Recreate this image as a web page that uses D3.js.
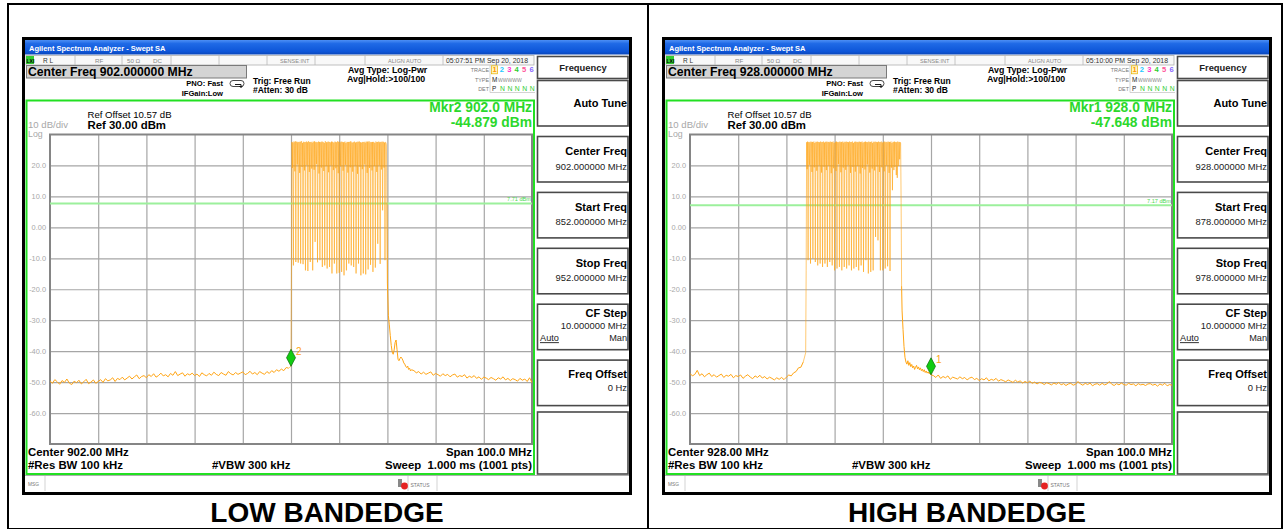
<!DOCTYPE html>
<html><head><meta charset="utf-8">
<script src="https://cdn.jsdelivr.net/npm/d3@7"></script>
<style>
html,body{margin:0;padding:0;background:#fff;}
svg{display:block;font-family:"Liberation Sans",Arial,Helvetica,sans-serif;}
</style></head><body>
<svg id="chart" width="1285" height="529"></svg>
<script>
// ---------- measurement settings ----------
const captions = ["LOW BANDEDGE", "HIGH BANDEDGE"];
const centerFreqs = [902.0, 928.0];          // MHz
const spanMHz = 100.0;
const refLevel = 30.0, dbPerDiv = 10;         // dBm, dB/div
const levelTicks = [20, 10, 0, -10, -20, -30, -40, -50, -60];
const freqGridLow = [862, 872, 882, 892, 902, 912, 922, 932, 942];
const freqGridHigh = [888, 898, 908, 918, 928, 938, 948, 958, 968];
const displayLines = [7.71, 7.17];            // dBm
const timestamps = ["05:07:51 PM Sep 20, 2018", "05:10:00 PM Sep 20, 2018"];
const markerLabels = ["2", "1"];
const markerFreqs = [902.0, 928.0];           // MHz
const markerLevels = [-44.879, -47.648];      // dBm

// ---------- trace: low band edge (852 - 952 MHz) ----------
const lowNoiseLeft = [ // 852.0 .. 901.5 MHz, 0.5 MHz
 -49.6,-50.4,-49.2,-49.9,-50.7,-49.5,-50.1,-49.0,-50.3,-50.8,
 -49.7,-50.2,-49.4,-50.6,-49.9,-49.1,-50.5,-50.0,-49.3,-50.4,
 -49.8,-49.2,-50.1,-48.9,-49.6,-49.3,-48.6,-49.8,-48.8,-49.2,
 -48.4,-49.3,-48.7,-48.1,-49.0,-48.3,-47.7,-48.9,-48.2,-47.9,
 -48.6,-47.6,-48.2,-47.3,-48.4,-47.9,-47.1,-48.0,-47.6,-48.3,
 -47.2,-47.8,-46.6,-47.9,-47.4,-47.0,-48.1,-47.3,-47.7,-47.1,
 -47.9,-47.4,-48.2,-47.0,-47.6,-48.0,-47.2,-47.8,-46.8,-47.5,
 -47.9,-46.9,-47.4,-47.8,-46.6,-47.3,-47.7,-46.9,-47.5,-47.1,
 -46.7,-47.6,-47.2,-46.5,-47.4,-46.9,-47.6,-46.6,-47.1,-47.5,
 -46.6,-47.2,-46.3,-46.9,-46.0,-46.5,-45.8,-46.3,-45.3,-45.5];
const lowBand = [ // 902.0 .. 921.9 MHz, 0.1 MHz
 -44.879,-12.5,
 27.6,19.2,27.4,-12.3,27.7, 27.5,18.1,27.8,-11.2,27.3, 27.7,20.3,27.5,-11.4,27.6,
 27.4,17.6,27.7,-11.7,27.5, 27.8,19.5,27.3,-11.9,27.6, 27.5,18.4,27.6,-13.9,27.4,
 27.7,20.1,27.5,-14.1,27.8, 27.3,17.9,27.6,-11.2,27.5, 27.6,19.0,27.4,-13.9,27.7,
 27.5,18.6,27.8,-4.7,27.4, 27.6,20.4,27.5,-11.3,27.3, 27.7,17.4,27.6,-10.6,27.5,
 27.4,19.3,27.7,-12.8,27.6, 27.5,18.2,27.3,-12.3,27.8, 27.6,19.8,27.5,-13.3,27.4,
 27.7,17.8,27.6,-12.8,27.5, 27.3,20.0,27.7,-14.9,27.6, 27.5,18.5,27.4,-11.7,27.7,
 27.6,19.1,27.5,-14.9,27.3, 27.8,17.5,27.6,-14.7,27.5, 27.4,19.7,27.7,-14.4,27.6,
 27.5,18.3,27.5,-15.5,27.4, 27.7,20.2,27.3,-13.9,27.6, 27.5,17.7,27.6,-11.7,27.5,
 27.6,19.4,27.8,-12.3,27.4, 27.3,18.0,27.5,-12.8,27.7, 27.6,19.9,27.4,-14.9,27.5,
 27.5,17.3,27.7,-11.7,27.6, 27.7,19.6,27.5,-15.5,27.3, 27.4,18.8,27.6,-14.9,27.5,
 27.6,20.3,27.4,-15.2,27.7, 27.5,17.6,27.7,-13.6,27.4, 27.8,19.2,27.5,-12.1,27.6,
 27.4,18.4,27.6,-14.4,27.5, 27.6,19.8,27.3,-13.0,27.7, 27.5,17.9,27.6,-5.3,27.4,
 27.7,20.0,27.5,-11.8,27.6, 27.4,18.7,27.7,5.5,27.5, 27.6,19.3,27.4,-10.6,27.5,
 27.4,26.6,8.0];
const lowTail = [ // 922.0 .. 927.0 MHz, 0.2 MHz
 -18.0,-28.5,-31.5,-35.0,-38.2,-40.3,-41.0,-39.6,-37.2,-36.4,
 -39.5,-42.6,-43.1,-42.4,-41.9,-42.3,-42.9,-43.8,-44.2,-44.9,
 -45.3,-44.8,-45.9,-45.5,-46.4,-46.0];
const lowNoiseRight = [ // 927.5 .. 952.0 MHz, 0.5 MHz
 -46.3,-47.0,-46.6,-47.4,-46.8,-47.5,-47.1,-46.7,-47.8,-47.2,
 -47.6,-48.1,-47.3,-47.9,-47.5,-48.3,-47.7,-47.4,-48.4,-47.9,
 -48.2,-47.6,-48.7,-48.1,-48.5,-47.9,-48.8,-48.3,-49.1,-48.4,
 -48.7,-49.2,-48.5,-48.9,-49.4,-48.6,-49.0,-48.3,-49.3,-48.8,
 -49.5,-48.9,-49.2,-49.7,-48.8,-49.4,-49.0,-49.8,-48.6,-50.2];

// ---------- trace: high band edge (878 - 978 MHz) ----------
const highNoiseLeft = [ // 878.0 .. 901.5 MHz, 0.5 MHz
 -47.2,-48.0,-47.5,-46.2,-47.9,-47.3,-48.3,-47.6,-47.1,-48.2,
 -47.6,-48.4,-47.9,-47.4,-48.5,-47.8,-48.1,-47.5,-48.6,-47.9,
 -48.2,-47.7,-48.8,-48.1,-47.6,-48.4,-48.9,-48.0,-48.5,-47.8,
 -48.7,-48.2,-49.0,-48.4,-48.8,-49.3,-48.6,-49.1,-48.5,-49.2,
 -48.4,-47.7,-48.0,-47.0,-46.6,-45.4,-45.2,-43.5];
const highBand = [ // 902.0 .. 921.9 MHz, 0.1 MHz
 -40.5,-14.0,
 27.5,18.8,27.7,-10.6,27.4, 27.6,20.2,27.5,-11.7,27.7, 27.4,17.9,27.6,-10.1,27.5,
 27.7,19.4,27.3,-11.2,27.6, 27.5,18.3,27.7,-12.3,27.4, 27.6,20.0,27.5,-11.7,27.7,
 27.3,17.7,27.6,-12.8,27.5, 27.7,19.6,27.4,-11.7,27.6, 27.5,18.5,27.7,-12.8,27.3,
 27.6,19.9,27.5,-11.2,27.7, 27.4,17.5,27.6,-12.3,27.5, 27.7,19.1,27.3,-13.9,27.6,
 27.5,18.2,27.7,-13.3,27.4, 27.6,20.4,27.5,-12.8,27.7, 27.3,17.8,27.6,-13.9,27.5,
 27.7,19.3,27.4,-12.8,27.6, 27.5,18.6,27.7,-13.3,27.3, 27.6,20.1,27.5,-12.3,27.7,
 27.4,17.6,27.6,-13.9,27.5, 27.7,19.5,27.3,-13.3,27.6, 27.5,18.0,27.7,-12.8,27.4,
 27.6,19.8,27.5,-13.9,27.7, 27.3,17.4,27.6,-12.3,27.5, 27.7,19.2,27.4,-14.4,27.6,
 27.5,18.7,27.7,-10.6,27.3, 27.6,20.3,27.5,-14.9,27.7, 27.4,17.7,27.6,-14.4,27.5,
 27.7,19.0,27.3,-13.9,27.6, 27.5,18.4,27.7,-3.1,27.4, 27.6,19.7,27.5,-4.2,27.7,
 27.3,17.9,27.6,-13.9,27.5, 27.7,19.4,27.4,-13.9,27.6, 27.5,18.1,27.7,-13.3,27.3,
 27.6,20.0,27.5,-12.6,27.7, 27.4,17.6,27.6,-14.1,27.5, 27.7,19.3,27.3,12.0,27.6,
 27.5,18.5,27.7,19.5,27.4, 27.6,16.9,27.5,16.0,27.7, 27.3,19.8,27.6,22.0,27.5,
 27.3,8.0,-19.0];
const highTail = [ // 922.0 .. 928.0 MHz, 0.2 MHz
 -27.0,-33.0,-38.5,-42.0,-43.5,-44.2,-43.1,-44.6,-43.7,-45.0,
 -44.3,-45.4,-44.8,-45.9,-45.2,-44.6,-45.7,-45.1,-46.0,-45.4,
 -46.3,-45.8,-46.6,-46.0,-46.9,-46.4,-47.1,-46.7,-47.3,-47.0,
 -47.648];
const highNoiseRight = [ // 928.5 .. 978.0 MHz, 0.5 MHz
 -47.9,-48.5,-47.7,-48.8,-48.2,-48.6,-48.0,-49.1,-48.4,-48.7,
 -49.0,-48.3,-48.9,-48.5,-49.3,-48.7,-48.4,-49.2,-48.8,-49.5,
 -48.9,-49.3,-48.6,-49.6,-49.1,-49.4,-48.8,-49.7,-49.2,-49.5,
 -49.9,-49.3,-49.7,-50.1,-49.4,-50.0,-49.6,-50.3,-49.8,-50.2,
 -49.7,-50.4,-50.0,-50.6,-50.1,-50.3,-50.8,-50.2,-50.5,-50.9,
 -50.3,-50.7,-50.1,-50.9,-50.5,-51.1,-50.6,-50.4,-51.0,-50.7,
 -49.8,-50.6,-51.0,-50.4,-50.8,-50.3,-51.2,-50.7,-50.5,-51.0,
 -50.4,-50.9,-50.6,-49.8,-50.7,-51.1,-50.5,-50.9,-50.3,-50.8,
 -51.0,-50.4,-50.8,-50.6,-51.2,-50.5,-50.9,-50.7,-51.1,-50.6,
 -50.5,-51.0,-50.7,-51.3,-50.6,-51.0,-50.4,-51.2,-50.8,-51.0];

// sweep segments: [first frequency (MHz), point spacing (MHz), levels, pen width]
const traceSegments = [
  [[852.0, 0.5, lowNoiseLeft, 1], [902.0, 0.1, lowBand, 0.6], [922.0, 0.2, lowTail, 1], [927.5, 0.5, lowNoiseRight, 1]],
  [[878.0, 0.5, highNoiseLeft, 1], [902.0, 0.1, highBand, 0.6], [922.0, 0.2, highTail, 1], [928.5, 0.5, highNoiseRight, 1]]
];
const freqGrids = [freqGridLow, freqGridHigh];

// ---------- drawing ----------
const svg = d3.select("#chart");
const TRACE = "#ffa514", MKR = "#2bd82b";
const defs = svg.append("defs");
const tb = defs.append("linearGradient").attr("id", "titlebar").attr("x1", 0).attr("y1", 0).attr("x2", 0).attr("y2", 1);
tb.append("stop").attr("offset", "0%").attr("stop-color", "#4d8ff5");
tb.append("stop").attr("offset", "25%").attr("stop-color", "#1f6ae6");
tb.append("stop").attr("offset", "80%").attr("stop-color", "#0d55d8");
tb.append("stop").attr("offset", "100%").attr("stop-color", "#0a46b8");

// page frame
const frame = svg.append("g").attr("stroke", "#000").attr("stroke-width", 2).attr("fill", "none");
frame.append("rect").attr("x", 8).attr("y", 4).attr("width", 1274).attr("height", 525);
frame.append("line").attr("x1", 648).attr("x2", 648).attr("y1", 4).attr("y2", 529);

function txt(g, x, y, s, size, opts = {}) {
  return g.append("text").attr("x", x).attr("y", y).text(s)
    .attr("font-size", size)
    .attr("font-weight", opts.bold ? "bold" : "normal")
    .attr("fill", opts.fill || "#000")
    .attr("text-anchor", opts.anchor || "start");
}

function drawPanel(idx, ox) {
  const g = svg.append("g");
  const center = centerFreqs[idx];
  const start = center - spanMHz / 2, stop = center + spanMHz / 2;
  const px0 = ox + 50, px1 = ox + 532, py0 = 134.5, py1 = 444;
  const x = d3.scaleLinear().domain([start, stop]).range([px0, px1]);
  const y = d3.scaleLinear().domain([refLevel - 10 * dbPerDiv, refLevel]).range([py1, py0]);

  // instrument window
  g.append("rect").attr("x", ox + 22).attr("y", 37).attr("width", 610).attr("height", 458).attr("fill", "#000");
  g.append("rect").attr("x", ox + 25).attr("y", 40).attr("width", 604).attr("height", 452).attr("fill", "#fff");
  g.append("rect").attr("x", ox + 25).attr("y", 40).attr("width", 604).attr("height", 14.5).attr("fill", "url(#titlebar)");
  txt(g, ox + 29, 50.5, "Agilent Spectrum Analyzer - Swept SA", 7.5, {bold: true, fill: "#fff"});

  // status row
  g.append("rect").attr("x", ox + 26).attr("y", 55.5).attr("width", 508).attr("height", 9.5)
    .attr("fill", "#f8f8f8").attr("stroke", "#b0b0b0").attr("stroke-width", 0.8);
  [75, 122, 171, 219, 267, 315, 365, 443].forEach(d =>
    g.append("line").attr("x1", ox + d).attr("x2", ox + d).attr("y1", 55.5).attr("y2", 65)
      .attr("stroke", "#b8b8b8").attr("stroke-width", 0.8));
  g.append("rect").attr("x", ox + 26).attr("y", 56).attr("width", 8).attr("height", 8).attr("fill", "#33cc33");
  txt(g, ox + 26.5, 62.6, "LXI", 5, {bold: true});
  txt(g, ox + 43, 62.8, "R L", 6.5, {fill: "#333"});
  txt(g, ox + 95, 62.8, "RF", 6.2, {fill: "#888"});
  txt(g, ox + 127, 62.8, "50 Ω", 6.2, {fill: "#888"});
  txt(g, ox + 153, 62.8, "DC", 6.2, {fill: "#888"});
  txt(g, ox + 280, 62.8, "SENSE:INT", 5.6, {fill: "#888"});
  txt(g, ox + 388, 62.8, "ALIGN AUTO", 5.6, {fill: "#888"});
  txt(g, ox + 446, 62.8, timestamps[idx], 6.9, {fill: "#333"});

  // centre frequency entry box
  g.append("rect").attr("x", ox + 26.5).attr("y", 65.5).attr("width", 220).attr("height", 12.5)
    .attr("fill", "#d4d4d4").attr("stroke", "#7a7a7a").attr("stroke-width", 1);
  txt(g, ox + 28, 76, `Center Freq ${center.toFixed(6)} MHz`, 12.2, {bold: true});

  txt(g, ox + 223, 86.3, "PNO: Fast", 7.6, {bold: true, anchor: "end"});
  txt(g, ox + 223, 95.7, "IFGain:Low", 7.6, {bold: true, anchor: "end"});
  g.append("rect").attr("x", ox + 230).attr("y", 80.5).attr("width", 14).attr("height", 6).attr("rx", 3)
    .attr("fill", "none").attr("stroke", "#333").attr("stroke-width", 0.9);
  g.append("path").attr("d", `M${ox + 235},84.5 h6 v3 M${ox + 239.5},86 l1.5,1.5 l1.5,-1.5`)
    .attr("fill", "none").attr("stroke", "#000").attr("stroke-width", 0.9);
  txt(g, ox + 253, 83.6, "Trig: Free Run", 8.5, {bold: true});
  txt(g, ox + 253, 93, "#Atten: 30 dB", 8.5, {bold: true});
  txt(g, ox + 348, 72.5, "Avg Type: Log-Pwr", 8.8, {bold: true});
  txt(g, ox + 347, 82, "Avg|Hold:>100/100", 8.8, {bold: true});

  // trace info block
  g.append("path").attr("d", `M${ox + 490},65 V92.5 H${ox + 535}`).attr("fill", "none").attr("stroke", "#c8c8c8").attr("stroke-width", 0.8);
  txt(g, ox + 489, 72, "TRACE", 5.4, {fill: "#777", anchor: "end"});
  txt(g, ox + 489, 81.5, "TYPE", 5.4, {fill: "#777", anchor: "end"});
  txt(g, ox + 489, 90.5, "DET", 5.4, {fill: "#777", anchor: "end"});
  g.append("rect").attr("x", ox + 491.5).attr("y", 65.8).attr("width", 6).attr("height", 8)
    .attr("fill", "#fff4c4").attr("stroke", "#e8b400").attr("stroke-width", 0.7);
  const traceColors = ["#ff9900", "#22c8ff", "#ff33cc", "#33cc33", "#ff5599", "#8866ff"];
  ["1", "2", "3", "4", "5", "6"].forEach((s, i) =>
    txt(g, ox + 494.5 + i * 7.4, 72.4, s, 7.6, {bold: true, fill: traceColors[i], anchor: "middle"}));
  txt(g, ox + 492, 81.5, "M", 6.4, {fill: "#222"});
  txt(g, ox + 498, 81.5, "WWWWW", 5, {fill: "#888"});
  txt(g, ox + 492, 90.5, "P", 6.4, {fill: "#222"});
  ["N", "N", "N", "N", "N"].forEach((s, i) =>
    txt(g, ox + 502.5 + i * 7.4, 90.5, s, 6.8, {fill: "#33cc33", anchor: "middle"}));

  // softkey column
  const sk = g.append("g");
  const box = (y0, h) => sk.append("rect").attr("x", ox + 537.5).attr("y", y0).attr("width", 90.5).attr("height", h)
    .attr("fill", "#fff").attr("stroke", "#4a4a4a").attr("stroke-width", 1.6);
  box(56.5, 22); txt(sk, ox + 583, 70.5, "Frequency", 9.4, {bold: true, anchor: "middle", fill: "#222"});
  box(80.5, 45.5); txt(sk, ox + 627, 106.7, "Auto Tune", 11, {bold: true, anchor: "end"});
  const keys = [
    ["Center Freq", `${center.toFixed(6)} MHz`],
    ["Start Freq", `${start.toFixed(6)} MHz`],
    ["Stop Freq", `${stop.toFixed(6)} MHz`],
    ["CF Step", "10.000000 MHz"],
    ["Freq Offset", "0 Hz"]
  ];
  keys.forEach((k, i) => {
    const t = 136.5 + i * 55.9;
    box(t, 45.5);
    if (k[0] === "CF Step") {
      txt(sk, ox + 627, t + 12.5, k[0], 11, {bold: true, anchor: "end"});
      txt(sk, ox + 627, t + 25, k[1], 9.4, {anchor: "end", fill: "#222"});
      txt(sk, ox + 540, t + 37, "Auto", 9.2, {fill: "#222"}).attr("text-decoration", "underline");
      txt(sk, ox + 627, t + 37, "Man", 9.2, {anchor: "end", fill: "#222"});
    } else if (k[0] === "Freq Offset") {
      txt(sk, ox + 627, t + 17.5, k[0], 11, {bold: true, anchor: "end"});
      txt(sk, ox + 627, t + 30.5, k[1], 9.4, {anchor: "end", fill: "#222"});
    } else {
      txt(sk, ox + 627, t + 18.5, k[0], 11, {bold: true, anchor: "end"});
      txt(sk, ox + 627, t + 33, k[1], 9.4, {anchor: "end", fill: "#222"});
    }
  });
  box(412, 62);

  // message row
  g.append("line").attr("x1", ox + 25).attr("x2", ox + 629).attr("y1", 475.5).attr("y2", 475.5).attr("stroke", "#999").attr("stroke-width", 0.8);
  [45, 408, 437].forEach(d => g.append("line").attr("x1", ox + d).attr("x2", ox + d).attr("y1", 476).attr("y2", 491)
    .attr("stroke", "#c8c8c8").attr("stroke-width", 0.8));
  txt(g, ox + 28, 486, "MSG", 4.8, {fill: "#777"});
  g.append("rect").attr("x", ox + 398).attr("y", 479).attr("width", 4).attr("height", 8).attr("fill", "#888");
  g.append("circle").attr("cx", ox + 404.5).attr("cy", 486).attr("r", 3.4).attr("fill", "#e52222");
  txt(g, ox + 410.5, 486.5, "STATUS", 5, {fill: "#777"});

  // measurement area frame
  g.append("rect").attr("x", ox + 26.5).attr("y", 100.5).attr("width", 507.5).attr("height", 373.5)
    .attr("fill", "none").attr("stroke", "#22e022").attr("stroke-width", 2);

  txt(g, ox + 87.5, 117.7, "Ref Offset 10.57 dB", 9.6);
  txt(g, ox + 87.5, 129, `Ref ${refLevel.toFixed(2)} dBm`, 11.4, {bold: true});
  txt(g, ox + 28, 127.6, `${dbPerDiv} dB/div`, 9.6, {fill: "#a8a8a8"});
  txt(g, ox + 28, 137.2, "Log", 8.8, {fill: "#a8a8a8"});

  txt(g, ox + 532, 112.3, `Mkr${markerLabels[idx]} ${markerFreqs[idx].toFixed(1)} MHz`, 13.8, {bold: true, fill: MKR, anchor: "end"});
  txt(g, ox + 532, 126.7, `${markerLevels[idx].toFixed(3)} dBm`, 13.8, {bold: true, fill: MKR, anchor: "end"});

  // graticule
  const yAxis = d3.axisLeft(y).tickValues(levelTicks).tickSize(-(px1 - px0)).tickPadding(4)
    .tickFormat(d => d === 0 ? "0.00" : d.toFixed(1));
  const ya = g.append("g").attr("transform", `translate(${px0},0)`).call(yAxis);
  ya.select(".domain").remove();
  ya.selectAll("line").attr("stroke", "#a6a6a6").attr("stroke-width", 1.2);
  ya.selectAll("text").attr("fill", "#a8a8a8").attr("font-size", 7.4).attr("font-family", "Liberation Sans, Arial, sans-serif");
  const xAxis = d3.axisBottom(x).tickValues(freqGrids[idx]).tickSize(-(py1 - py0)).tickFormat("");
  const xa = g.append("g").attr("transform", `translate(0,${py1})`).call(xAxis);
  xa.select(".domain").remove();
  xa.selectAll("line").attr("stroke", "#a6a6a6").attr("stroke-width", 1.2);
  g.append("rect").attr("x", px0).attr("y", py0).attr("width", px1 - px0).attr("height", py1 - py0)
    .attr("fill", "none").attr("stroke", "#858585").attr("stroke-width", 2);

  // display line
  const dl = displayLines[idx];
  g.append("line").attr("x1", px0).attr("x2", px1).attr("y1", y(dl)).attr("y2", y(dl))
    .attr("stroke", "#9cf09c").attr("stroke-width", 2);
  txt(g, px1 - 1, y(dl) - 2.2, `${dl.toFixed(2)} dBm`, 5.6, {fill: "#4ed84e", anchor: "end"});

  // trace, one path per sweep segment joined end to end
  const clipId = "plotclip" + idx;
  defs.append("clipPath").attr("id", clipId).append("rect")
    .attr("x", px0).attr("y", py0).attr("width", px1 - px0).attr("height", py1 - py0);
  const line = d3.line().x(d => x(d[0])).y(d => y(d[1]));
  const tg = g.append("g").attr("clip-path", `url(#${clipId})`);
  let prev = null;
  traceSegments[idx].forEach(([f0, df, vals, w]) => {
    const pts = vals.map((v, i) => [f0 + i * df, v]);
    const seg = prev ? [prev].concat(pts) : pts;
    tg.append("path").datum(seg).attr("d", line)
      .attr("fill", "none").attr("stroke", TRACE).attr("stroke-width", w).attr("stroke-linejoin", "round");
    prev = pts[pts.length - 1];
  });

  // marker
  const mx = x(markerFreqs[idx]), my = y(markerLevels[idx]);
  g.append("path").attr("d", `M${mx},${my} L${mx + 4.5},${my - 8.5} L${mx},${my - 17} L${mx - 4.5},${my - 8.5} Z`)
    .attr("fill", "#11cc11").attr("stroke", "#0a6a0a").attr("stroke-width", 0.7);
  txt(g, mx + 5, my - 11.5, markerLabels[idx], 10, {fill: TRACE});

  // bottom annotations
  txt(g, ox + 28, 456, `Center ${center.toFixed(2)} MHz`, 11.4, {bold: true});
  txt(g, ox + 28, 469, "#Res BW 100 kHz", 11.4, {bold: true});
  txt(g, ox + 212, 469, "#VBW 300 kHz", 11.4, {bold: true});
  txt(g, ox + 532, 456, `Span ${spanMHz.toFixed(1)} MHz`, 11.4, {bold: true, anchor: "end"});
  txt(g, ox + 532, 469, "Sweep  1.000 ms (1001 pts)", 11.4, {bold: true, anchor: "end"}).attr("xml:space", "preserve");

  // caption
  txt(svg, ox + 327, 521.5, captions[idx], 28, {bold: true, anchor: "middle"});
}

drawPanel(0, 0);
drawPanel(1, 640);
</script>
</body></html>
